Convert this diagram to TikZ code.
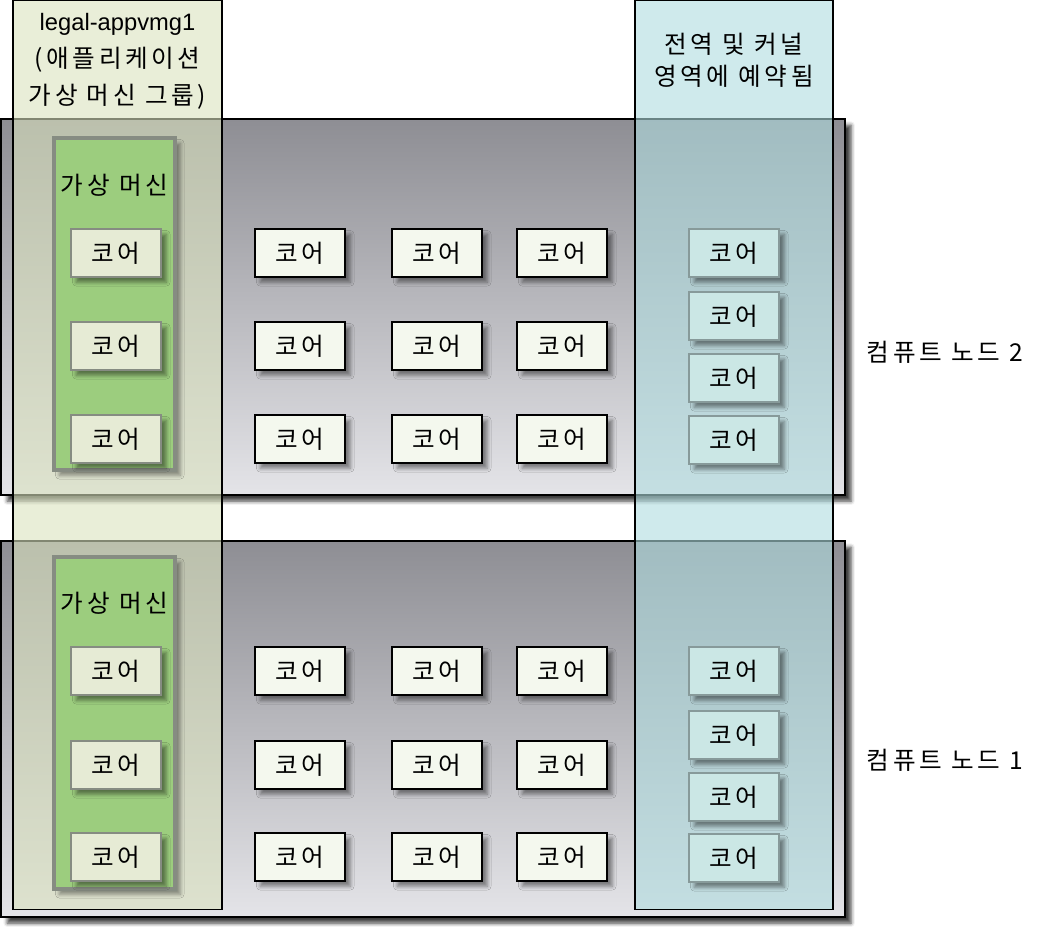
\documentclass[tikz,border=0pt]{standalone}
\usepackage{fontspec}
\setmainfont[LetterSpace=15]{Noto Sans CJK KR}
\newfontfamily\latinfont{Liberation Sans}
\usepackage{xcolor}
\usepackage{tikz}
\usetikzlibrary{positioning,shadows,shadows.blur}

\definecolor{nodetop}{HTML}{8E8E94}
\definecolor{nodebottom}{HTML}{E4E4E8}
\definecolor{appfill}{HTML}{DAE2BE}
\definecolor{kernfill}{HTML}{AFDCDF}
\definecolor{vmgreen}{HTML}{9CCD7E}
\definecolor{vmborder}{HTML}{868C82}
\definecolor{vmcorefill}{HTML}{E6EBD5}
\definecolor{corefill}{HTML}{F4F8EE}
\definecolor{kcorefill}{HTML}{CBE7E5}
\definecolor{kcoreborder}{HTML}{879A9A}

\begin{document}
\begin{tikzpicture}[x=0.02cm, y=-0.02cm,
    every node/.style={font=\fontsize{14}{17}\selectfont},
    computenode/.style={draw=black, line width=0.8pt, top color=nodetop, bottom color=nodebottom,
        minimum width=16.88cm, minimum height=7.52cm, inner sep=0pt,
        blur shadow={shadow xshift=3.5pt, shadow yshift=-3.5pt, shadow opacity=75, shadow blur steps=4}},
    column/.style={draw=black, line width=0.6pt, fill opacity=0.6, draw opacity=1,
        minimum height=18.2cm, inner sep=0pt},
    vmbox/.style={draw=vmborder, line width=1.8pt, fill=vmgreen, minimum width=2.42cm,
        minimum height=6.64cm, inner sep=0pt,
        blur shadow={shadow xshift=3pt, shadow yshift=-3pt, shadow opacity=40}},
    corebox/.style={minimum width=1.8cm, minimum height=0.96cm, inner sep=0pt,
        blur shadow={shadow xshift=3pt, shadow yshift=-3pt, shadow opacity=45}},
    vmcore/.style={corebox, draw=vmborder, line width=1pt, fill=vmcorefill},
    core/.style={corebox, draw=black, line width=0.8pt, fill=corefill},
    kcore/.style={corebox, draw=kcoreborder, line width=1pt, fill=kcorefill}]

\useasboundingbox (0,0) rectangle (1049,928);

% compute nodes
\node[computenode] (node2) at (423,307) {};
\node[computenode] (node1) at (423,729) {};

% group and reserved columns
\node[column, fill=appfill, minimum width=4.18cm] (appgroup) at (117.5,455) {};
\node[column, fill=kernfill, minimum width=3.96cm] (reserved) at (734,455) {};

\node[align=center] (appgroup_label) at (117.5,61) {{\latinfont\fontsize{13.5}{17}\selectfont legal-appvmg1}\\[4pt](애플리케이션\\[4pt]가상 머신 그룹)};
\node[align=center] (reserved_label) at (734,60) {전역 및 커널\\[1pt]영역에 예약됨};

% virtual machines
\node[vmbox] (vm2) at (114.5,304) {};
\node[vmbox] (vm1) at (114.5,723) {};
\node (vm2_label) at (114.5,185) {가상 머신};
\node (vm1_label) at (114.5,603) {가상 머신};

% compute node 2
\node[vmcore] (vmcore2_0) at (116,253) {코어};
\node[vmcore] (vmcore2_1) at (116,346) {코어};
\node[vmcore] (vmcore2_2) at (116,439) {코어};

\node[core] (core2_0) at (300,253) {코어};
\node[core] (core2_1) at (437,253) {코어};
\node[core] (core2_2) at (562,253) {코어};
\node[core] (core2_3) at (300,346) {코어};
\node[core] (core2_4) at (437,346) {코어};
\node[core] (core2_5) at (562,346) {코어};
\node[core] (core2_6) at (300,439) {코어};
\node[core] (core2_7) at (437,439) {코어};
\node[core] (core2_8) at (562,439) {코어};

\node[kcore] (kcore2_0) at (734,253) {코어};
\node[kcore] (kcore2_1) at (734,316) {코어};
\node[kcore] (kcore2_2) at (734,378) {코어};
\node[kcore] (kcore2_3) at (734,440) {코어};

% compute node 1
\node[vmcore] (vmcore1_0) at (116,671) {코어};
\node[vmcore] (vmcore1_1) at (116,765) {코어};
\node[vmcore] (vmcore1_2) at (116,857) {코어};

\node[core] (core1_0) at (300,671) {코어};
\node[core] (core1_1) at (437,671) {코어};
\node[core] (core1_2) at (562,671) {코어};
\node[core] (core1_3) at (300,765) {코어};
\node[core] (core1_4) at (437,765) {코어};
\node[core] (core1_5) at (562,765) {코어};
\node[core] (core1_6) at (300,857) {코어};
\node[core] (core1_7) at (437,857) {코어};
\node[core] (core1_8) at (562,857) {코어};

\node[kcore] (kcore1_0) at (734,671) {코어};
\node[kcore] (kcore1_1) at (734,735) {코어};
\node[kcore] (kcore1_2) at (734,797) {코어};
\node[kcore] (kcore1_3) at (734,858) {코어};

\node (node2_label) at (945,352) {컴퓨트 노드 2};
\node (node1_label) at (945,760) {컴퓨트 노드 1};

\end{tikzpicture}
\end{document}
